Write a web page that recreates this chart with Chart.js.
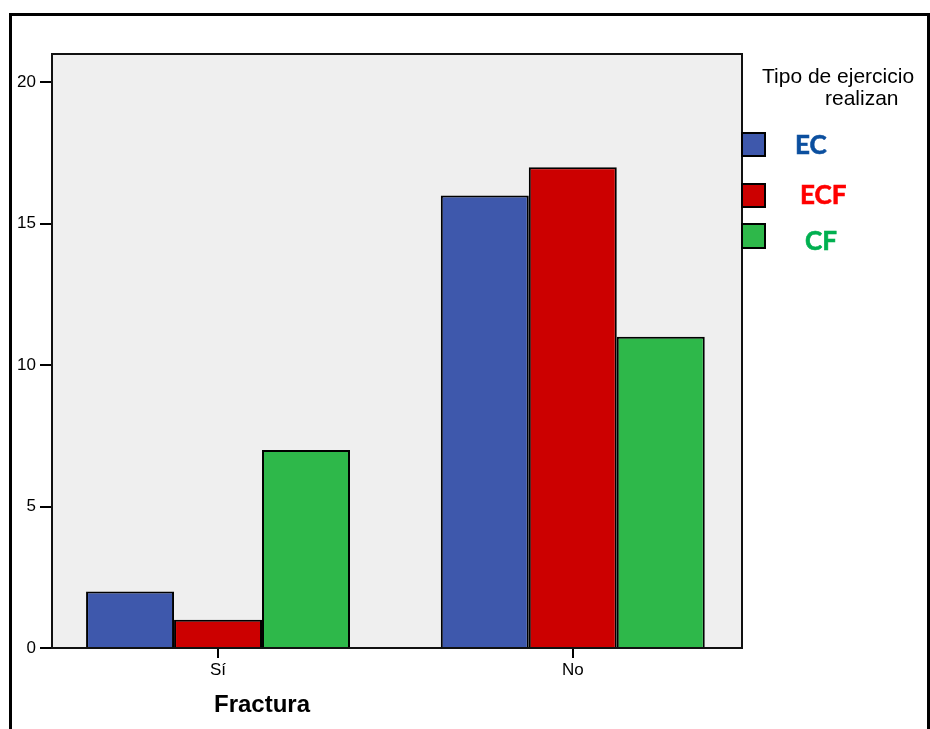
<!DOCTYPE html>
<html>
<head>
<meta charset="utf-8">
<script src="https://cdn.jsdelivr.net/npm/chart.js@4/dist/chart.umd.min.js"></script>
<style>
  html, body { margin: 0; padding: 0; background: #fff; }
  canvas { display: block; }
</style>
</head>
<body>
<canvas id="c" width="930" height="729"></canvas>
<script>
// Fractura (Sí / No) by type of exercise
const categories = ['Sí', 'No'];
const seriesNames = ['EC', 'ECF', 'CF'];
const ecValues = [2, 16];
const ecfValues = [1, 17];
const cfValues = [7, 11];
const yTicks = [0, 5, 10, 15, 20];

const barColors = ['#3E58AC', '#CC0000', '#2EB84A'];
const legendTextColors = ['#0B4F9F', '#FF0000', '#00B050'];
const FONT = '"Liberation Sans", Arial, sans-serif';

const toPoints = vals => vals.map((v, i) => ({ x: i, y: v }));

const datasets = [ecValues, ecfValues, cfValues].map((vals, i) => ({
  label: seriesNames[i],
  data: toPoints(vals),
  backgroundColor: barColors[i],
  borderColor: '#000',
  borderWidth: 2,
  barPercentage: 1,
  categoryPercentage: 0.744
}));

const framePlugin = {
  id: 'frame',
  beforeDraw(chart) {
    const { ctx, chartArea: a } = chart;
    ctx.save();
    ctx.fillStyle = '#fff';
    ctx.fillRect(0, 0, chart.width, chart.height);
    ctx.fillStyle = '#EFEFEF';
    ctx.fillRect(a.left, a.top, a.right - a.left, a.bottom - a.top);
    ctx.restore();
  },
  afterDraw(chart) {
    const { ctx, chartArea: a } = chart;
    ctx.save();
    // plot border
    ctx.strokeStyle = '#111';
    ctx.lineWidth = 2;
    ctx.strokeRect(a.left, a.top, a.right - a.left, a.bottom - a.top);
    // outer frame
    ctx.strokeStyle = '#000';
    ctx.lineWidth = 3;
    ctx.strokeRect(10.5, 14.5, 918, 800);

    // axis title
    ctx.fillStyle = '#000';
    ctx.font = 'bold 24px ' + FONT;
    ctx.textAlign = 'center';
    ctx.textBaseline = 'alphabetic';
    ctx.fillText('Fractura', 262, 712);

    // legend title
    ctx.font = '21px ' + FONT;
    ctx.textAlign = 'left';
    ctx.fillText('Tipo de ejercicio', 762, 83);
    ctx.fillText('realizan', 825, 105);

    // legend entries
    const boxes = [[133, 156], [184, 207], [224, 248]];
    const labelPos = [[795, 154], [800, 204], [805, 250]];
    boxes.forEach((b, i) => {
      ctx.fillStyle = barColors[i];
      ctx.fillRect(742, b[0], 23, b[1] - b[0]);
      ctx.strokeStyle = '#000';
      ctx.lineWidth = 2;
      ctx.strokeRect(742, b[0], 23, b[1] - b[0]);
      ctx.fillStyle = legendTextColors[i];
      ctx.strokeStyle = legendTextColors[i];
      ctx.lineWidth = 0.6;
      ctx.font = 'bold 26px Lato, "Open Sans", sans-serif';
      ctx.fillText(seriesNames[i], labelPos[i][0], labelPos[i][1]);
      ctx.strokeText(seriesNames[i], labelPos[i][0], labelPos[i][1]);
    });
    ctx.restore();
  }
};

new Chart(document.getElementById('c'), {
  type: 'bar',
  data: { datasets },
  options: {
    responsive: false,
    animation: false,
    layout: { padding: { left: 0, top: 54, right: 188, bottom: 0 } },
    plugins: { legend: { display: false }, tooltip: { enabled: false }, title: { display: false } },
    scales: {
      x: {
        type: 'linear',
        min: -0.468,
        max: 1.477,
        offset: false,
        border: { display: false },
        grid: { display: true, offset: false, drawOnChartArea: false, drawTicks: true, tickLength: 10, color: '#000', lineWidth: 2 },
        ticks: {
          stepSize: 1,
          includeBounds: false,
          autoSkip: false,
          maxRotation: 0,
          padding: 2,
          color: '#000',
          font: { family: FONT, size: 17 },
          callback: v => (categories[v] !== undefined ? categories[v] : '')
        },
        afterFit: s => { s.height = 81; }
      },
      y: {
        min: 0,
        max: 21,
        border: { display: false },
        grid: { display: true, drawOnChartArea: false, drawTicks: true, tickLength: 12, color: '#000', lineWidth: 2 },
        afterBuildTicks: s => { s.ticks = yTicks.map(v => ({ value: v })); },
        ticks: {
          padding: 4,
          color: '#000',
          font: { family: FONT, size: 17 }
        },
        afterFit: s => { s.width = 52; }
      }
    }
  },
  plugins: [framePlugin]
});
</script>
</body>
</html>
